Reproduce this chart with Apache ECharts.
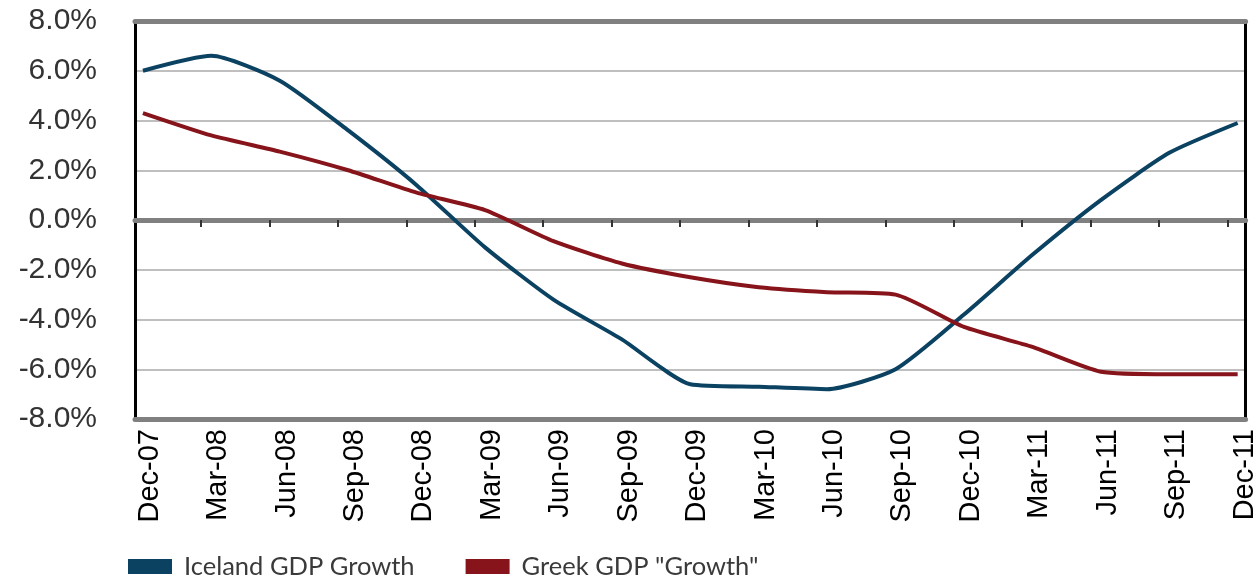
<!DOCTYPE html>
<html>
<head>
<meta charset="utf-8">
<title>Iceland vs Greek GDP growth</title>
<script src="https://cdn.jsdelivr.net/npm/echarts@6/dist/echarts.min.js"></script>
<style>
  html, body { margin: 0; padding: 0; background: #fff; }
  #myChart { width: 1259px; height: 581px; }
</style>
</head>
<body>
<div id="myChart"></div>
<script>
// quarters on the x axis
const quarters = ['Dec-07', 'Mar-08', 'Jun-08', 'Sep-08', 'Dec-08', 'Mar-09', 'Jun-09', 'Sep-09',
  'Dec-09', 'Mar-10', 'Jun-10', 'Sep-10', 'Dec-10', 'Mar-11', 'Jun-11', 'Sep-11', 'Dec-11']

// growth in percent
const icelandGrowth = [6.0, 6.6, 5.6, 3.6, 1.4, -1.1, -3.2, -4.8, -6.6, -6.7, -6.8, -6.0, -3.8, -1.4, 0.8, 2.7, 3.9]
const greekGrowth = [4.3, 3.4, 2.75, 2.0, 1.1, 0.4, -0.85, -1.75, -2.3, -2.7, -2.9, -3.0, -4.3, -5.1, -6.1, -6.2, -6.2]

const yTicks = [-8, -6, -4, -2, 0, 2, 4, 6, 8]
const legendNames = ['Iceland GDP Growth', 'Greek GDP "Growth"']

const lastIdx = quarters.length - 1
const pad = 0.116
const idx = quarters.map((q, i) => i)

let myChart = echarts.init(document.getElementById('myChart'))
myChart.setOption({
  animation: false,
  grid: { left: 135, right: 6, top: 21, bottom: 162 },
  legend: {
    left: 128,
    top: 553,
    padding: 0,
    itemWidth: 44,
    itemHeight: 15,
    itemGap: 51,
    icon: 'rect',
    textStyle: { fontFamily: 'Lato', fontSize: 25.5, lineHeight: 27, color: '#3a3a3a', padding: [0, 0, 0, 7] },
    data: legendNames
  },
  xAxis: [{
    // zero line with the quarter ticks
    type: 'value',
    min: -pad,
    max: lastIdx + pad,
    position: 'bottom',
    axisLine: { onZero: true, lineStyle: { color: '#808080', width: 5 } },
    axisTick: {
      show: true,
      length: 7,
      customValues: idx.slice(1).map(i => i - 0.15),
      lineStyle: { color: '#333', width: 2 }
    },
    axisLabel: { show: false },
    splitLine: { show: false }
  }, {
    // top border
    type: 'value',
    min: -pad,
    max: lastIdx + pad,
    position: 'top',
    axisLine: { onZero: false, lineStyle: { color: '#808080', width: 5 } },
    axisTick: { show: false },
    axisLabel: { show: false },
    splitLine: { show: false }
  }, {
    // bottom border with the labels
    type: 'value',
    min: -pad,
    max: lastIdx + pad,
    position: 'bottom',
    axisLine: { onZero: false, lineStyle: { color: '#808080', width: 5 } },
    axisTick: { show: false },
    axisLabel: {
      customValues: idx.map(i => i + 0.1),
      rotate: 90,
      margin: 10,
      fontFamily: 'Liberation Sans',
      fontSize: 29,
      color: '#000',
      formatter: v => quarters[Math.round(v)]
    },
    splitLine: { show: false }
  }],
  yAxis: [{
    type: 'value',
    min: yTicks[0],
    max: yTicks[yTicks.length - 1],
    interval: 2,
    position: 'left',
    axisLine: { show: true, onZero: false, lineStyle: { color: '#000', width: 3 } },
    axisTick: { show: false },
    axisLabel: {
      margin: 38,
      fontFamily: 'Liberation Sans',
      fontSize: 30,
      color: '#333',
      formatter: v => v.toFixed(1) + '%'
    },
    splitLine: { lineStyle: { color: '#bfbfbf', width: 2 } }
  }, {
    type: 'value',
    min: yTicks[0],
    max: yTicks[yTicks.length - 1],
    interval: 2,
    position: 'right',
    axisLine: { show: true, onZero: false, lineStyle: { color: '#000', width: 3 } },
    axisTick: { show: false },
    axisLabel: { show: false },
    splitLine: { show: false }
  }],
  series: [{
    name: legendNames[0],
    type: 'line',
    xAxisIndex: 0,
    yAxisIndex: 0,
    smooth: 0.2,
    showSymbol: false,
    color: '#0b4262',
    lineStyle: { width: 4 },
    data: icelandGrowth.map((v, i) => [i, v])
  }, {
    name: legendNames[1],
    type: 'line',
    xAxisIndex: 0,
    yAxisIndex: 0,
    smooth: 0.2,
    showSymbol: false,
    color: '#86141a',
    lineStyle: { width: 4 },
    data: greekGrowth.map((v, i) => [i, v])
  }]
})
</script>
</body>
</html>
